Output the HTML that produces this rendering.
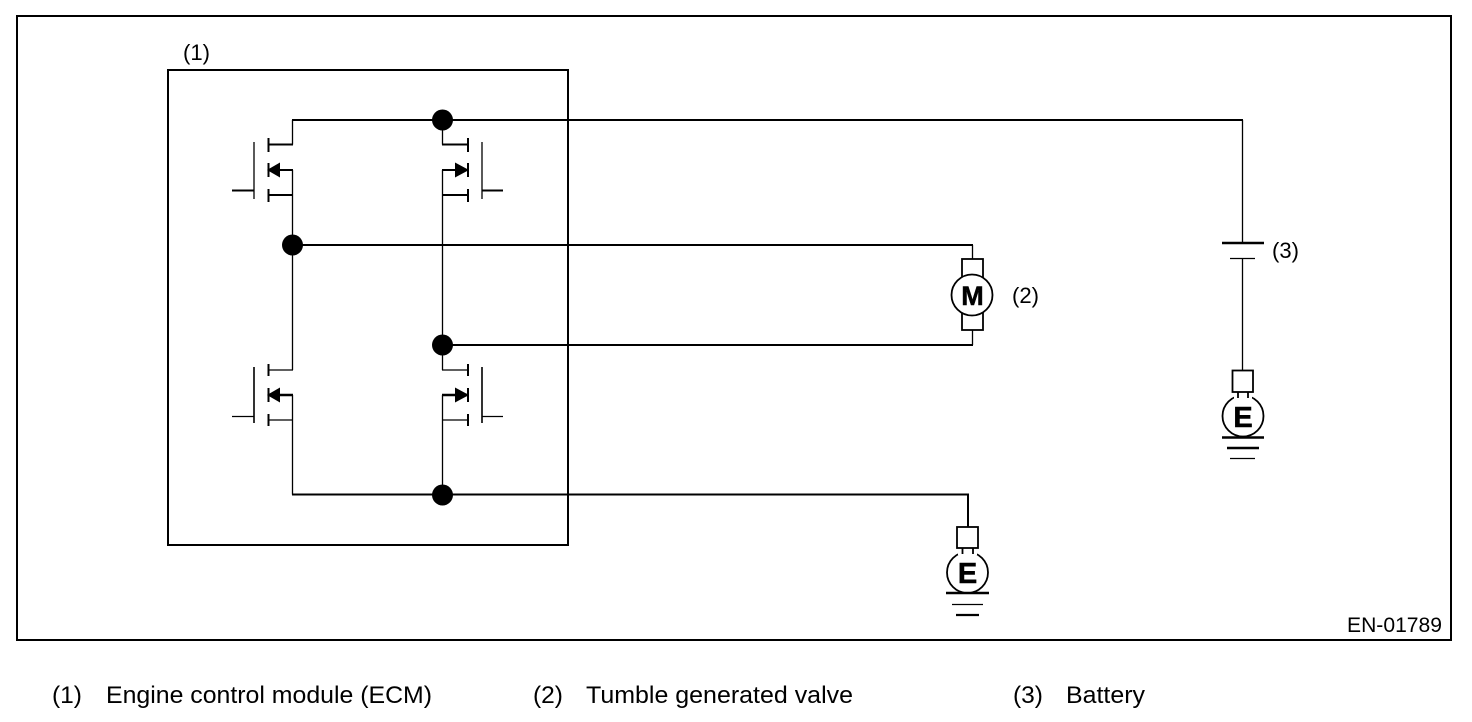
<!DOCTYPE html>
<html>
<head>
<meta charset="utf-8">
<style>
html,body{margin:0;padding:0;background:#fff;}
svg{display:block;}
text{font-family:"Liberation Sans",Arial,sans-serif;fill:#000;}
</style>
</head>
<body>
<svg width="1472" height="722" viewBox="0 0 1472 722" xmlns="http://www.w3.org/2000/svg">
<rect width="1472" height="722" fill="#fff"/>
<rect x="17" y="16" width="1434" height="624" fill="none" stroke="#000" stroke-width="2"/>
<rect x="168" y="70" width="400" height="475" fill="none" stroke="#000" stroke-width="2"/>

<!-- thick horizontals -->
<g fill="none" stroke="#000" stroke-width="2">
<path d="M292 120H1243"/>
<path d="M292.500 245H973"/>
<path d="M442.500 345H973"/>
<path d="M292 494.500H969"/>
<path d="M268 144.500H293M268 170H293M268 195H293"/>
<path d="M442 144.500H468M442 170H468M442 195H468"/>
<path d="M268 395H293M442 395H468" stroke-width="2.600"/>
<path d="M232 190.500H254M482 190.500H503"/>
<path d="M268.500 138V152M268.500 163V177M268.500 189V202"/>
<path d="M468 138V152M468 163V177M468 189V202"/>
<path d="M268.500 364V376M268.500 388V402M268.500 414V426"/>
<path d="M468 364V376M468 388V402M468 414V426"/>
<path d="M968 494V527" stroke-width="2"/>
</g>

<!-- thin lines -->
<g fill="none" stroke="#000" stroke-width="1.300">
<path d="M292.500 120V144.500"/>
<path d="M292.500 170V370"/>
<path d="M442.500 170V345"/>
<path d="M442.500 120V144.500"/>
<path d="M442.500 345V370"/>
<path d="M292.500 395V494.500"/>
<path d="M442.500 395V495"/>
<path d="M972.500 245V259"/>
<path d="M972.500 330V345"/>
<path d="M1242.500 120V243"/>
<path d="M1242.500 258V370"/>
<path d="M268 370H293M268 420H293M442 370H468M442 420H468"/>
<path d="M232 416.500H254M482 416.500H503"/>
<path d="M254 142V199M482 142V199"/>
<path d="M254 367V423M482 367V423" stroke-width="1.600"/>
</g>

<g fill="none" stroke="#000" stroke-width="1.800">
<!-- motor -->
<rect x="962" y="259" width="21" height="71"/>
<circle cx="972" cy="295" r="20.500" fill="#fff"/>

<!-- ground lower -->
<circle cx="967.500" cy="572.500" r="20.500" fill="#fff"/>
<path d="M958 552H977" stroke="#fff" stroke-width="6"/>
<path d="M962.500 548V554M973 548V554"/>
<rect x="957" y="527" width="21" height="21" fill="#fff"/>

<!-- battery -->
<path d="M1222 243H1264" stroke-width="2.500"/>
<path d="M1230 258.500H1255" stroke-width="1.300"/>

<!-- ground right -->
<circle cx="1243" cy="416" r="20.500" fill="#fff"/>
<path d="M1234 396H1252" stroke="#fff" stroke-width="6"/>
<path d="M1238 392V398M1248 392V398"/>
<rect x="1232.500" y="370.500" width="20.500" height="21.500" fill="#fff"/>
</g>

<g fill="none" stroke="#000">
<path d="M946 593H989" stroke-width="2.500"/>
<path d="M952 604.500H983" stroke-width="1.300"/>
<path d="M956 615H979" stroke-width="2.200"/>
<path d="M1222 437.500H1264" stroke-width="2.500"/>
<path d="M1227 448H1259" stroke-width="2.500"/>
<path d="M1230 458.500H1255" stroke-width="1.300"/>
</g>

<!-- dots -->
<g fill="#000">
<circle cx="442.500" cy="120" r="10.500"/>
<circle cx="292.500" cy="245" r="10.500"/>
<circle cx="442.500" cy="345" r="10.500"/>
<circle cx="442.500" cy="495" r="10.500"/>
<!-- arrows -->
<path d="M267 170L280 162.500V177.500Z"/>
<path d="M267 395L280 387.500V402.500Z"/>
<path d="M469 170L455 162.500V177.500Z"/>
<path d="M469 395L455 387.500V402.500Z"/>
</g>

<text x="972.500" y="305" font-size="27" font-weight="bold" text-anchor="middle" stroke="#000" stroke-width=".5">M</text>
<text x="967.500" y="583" font-size="29" font-weight="bold" text-anchor="middle" stroke="#000" stroke-width=".5">E</text>
<text x="1243" y="427" font-size="29" font-weight="bold" text-anchor="middle" stroke="#000" stroke-width=".5">E</text>

<text x="183" y="60" font-size="22" textLength="27" lengthAdjust="spacingAndGlyphs">(1)</text>
<text x="1012" y="303" font-size="22" textLength="27" lengthAdjust="spacingAndGlyphs">(2)</text>
<text x="1272" y="258" font-size="22" textLength="27" lengthAdjust="spacingAndGlyphs">(3)</text>
<text x="1347" y="632" font-size="21" textLength="95" lengthAdjust="spacingAndGlyphs">EN-01789</text>

<text x="52" y="703" font-size="24.500">(1)</text>
<text x="106" y="703" font-size="24.500" textLength="326" lengthAdjust="spacingAndGlyphs">Engine control module (ECM)</text>
<text x="533" y="703" font-size="24.500">(2)</text>
<text x="586" y="703" font-size="24.500" textLength="267" lengthAdjust="spacingAndGlyphs">Tumble generated valve</text>
<text x="1013" y="703" font-size="24.500">(3)</text>
<text x="1066" y="703" font-size="24.500" textLength="79" lengthAdjust="spacingAndGlyphs">Battery</text>
</svg>
</body>
</html>
